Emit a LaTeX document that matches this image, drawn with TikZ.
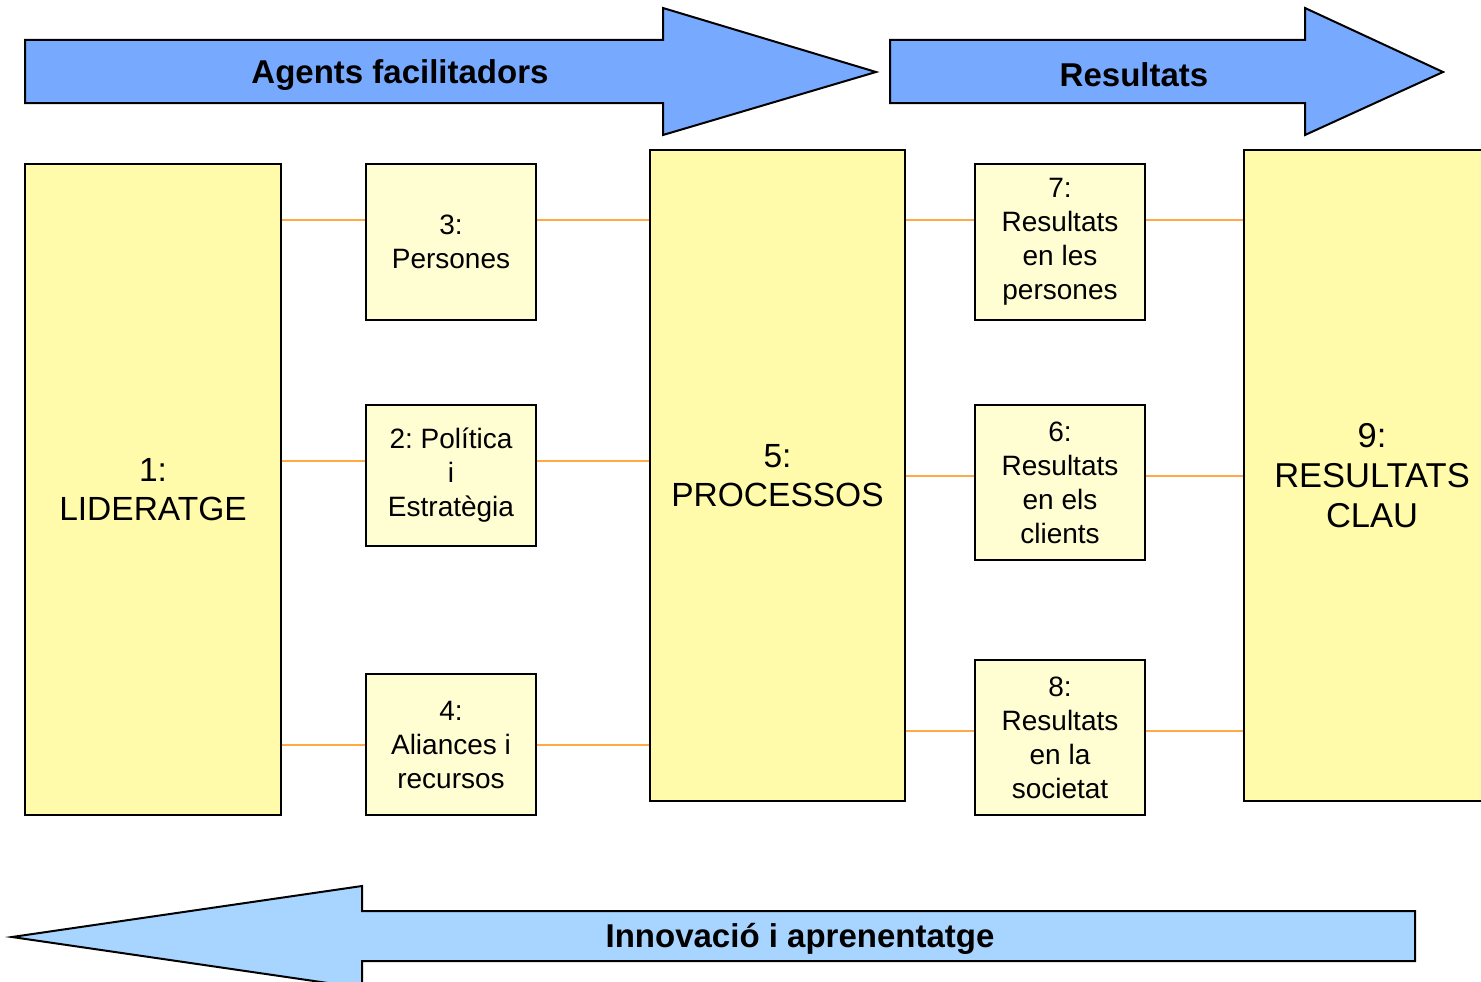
\documentclass[tikz,border=0pt]{standalone}
\usepackage{fontspec}
\setmainfont{Liberation Sans}
\frenchspacing
\definecolor{arrowblue}{HTML}{77AAFF}
\definecolor{arrowlight}{HTML}{A8D5FF}
\definecolor{bigfill}{HTML}{FFFBAA}
\definecolor{smallfill}{HTML}{FFFDD2}
\definecolor{linkorange}{HTML}{FFAA44}
\tikzset{
  bigbox/.style={draw=black, line width=2pt, fill=bigfill, minimum width=256pt, minimum height=651pt, align=center, inner sep=0pt, font=\fontsize{33.5}{39}\selectfont, execute at begin node={\rule{0pt}{28pt}}},
  smallbox/.style={draw=black, line width=2pt, fill=smallfill, minimum width=170pt, align=center, inner sep=0pt, font=\fontsize{28}{34}\selectfont, execute at begin node={\rule{0pt}{24pt}}},
  bigarrow/.style={draw=black, line width=2pt, line join=miter},
  arrowlabel/.style={font=\fontsize{33}{39}\selectfont\bfseries},
  link/.style={draw=linkorange, line width=2pt}
}
\begin{document}
\begin{tikzpicture}[x=1pt,y=-1pt]
\useasboundingbox (0,0) rectangle (1481,982);
\clip (0,0) rectangle (1481,982);
% top arrows
\draw[bigarrow, fill=arrowblue] (25,40) -- (663,40) -- (663,8) -- (876,72) -- (663,135) -- (663,103) -- (25,103) -- cycle;
\node[arrowlabel] (agents) at (400,75) {Agents facilitadors};
\draw[bigarrow, fill=arrowblue] (890,40) -- (1305,40) -- (1305,8) -- (1443,72) -- (1305,135) -- (1305,103) -- (890,103) -- cycle;
\node[arrowlabel] (result) at (1134,75) {Resultats};
% bottom arrow
\draw[bigarrow, fill=arrowlight] (1415,911) -- (362,911) -- (362,886) -- (12,937) -- (362,988) -- (362,961) -- (1415,961) -- cycle;
\node[arrowlabel] (innov) at (800,939) {Innovació i aprenentatge};
% boxes
\node[bigbox, minimum height=651pt] (n1) at (153,489.5) {1:\\LIDERATGE};
\node[smallbox, minimum height=156pt] (n3) at (451,242) {3:\\Persones};
\node[smallbox, minimum height=141pt] (n2) at (451,475.5) {2: Política\\i\\Estratègia};
\node[smallbox, minimum height=141pt] (n4) at (451,744.5) {4:\\Aliances i\\recursos};
\node[bigbox, minimum width=255pt, minimum height=651pt] (n5) at (777.5,475.5) {5:\\PROCESSOS};
\node[smallbox, minimum height=156pt, execute at begin node={\rule{0pt}{28pt}}] (n7) at (1060,242) {7:\\Resultats\\en les\\persones};
\node[smallbox, minimum height=155pt] (n6) at (1060,482.5) {6:\\Resultats\\en els\\clients};
\node[smallbox, minimum height=155pt] (n8) at (1060,737.5) {8:\\Resultats\\en la\\societat};
\node[bigbox, minimum width=256pt, minimum height=651pt, font=\fontsize{34.5}{40}\selectfont] (n9) at (1372,475.5) {9:\\RESULTATS\\CLAU};
% connectors
\draw[link] (n1.east |- 0,220) -- (n3.west |- 0,220);
\draw[link] (n3.east |- 0,220) -- (n5.west |- 0,220);
\draw[link] (n1.east |- 0,461) -- (n2.west |- 0,461);
\draw[link] (n2.east |- 0,461) -- (n5.west |- 0,461);
\draw[link] (n1.east |- 0,745) -- (n4.west |- 0,745);
\draw[link] (n4.east |- 0,745) -- (n5.west |- 0,745);
\draw[link] (n5.east |- 0,220) -- (n7.west |- 0,220);
\draw[link] (n7.east |- 0,220) -- (n9.west |- 0,220);
\draw[link] (n5.east |- 0,476) -- (n6.west |- 0,476);
\draw[link] (n6.east |- 0,476) -- (n9.west |- 0,476);
\draw[link] (n5.east |- 0,731) -- (n8.west |- 0,731);
\draw[link] (n8.east |- 0,731) -- (n9.west |- 0,731);
\end{tikzpicture}
\end{document}
